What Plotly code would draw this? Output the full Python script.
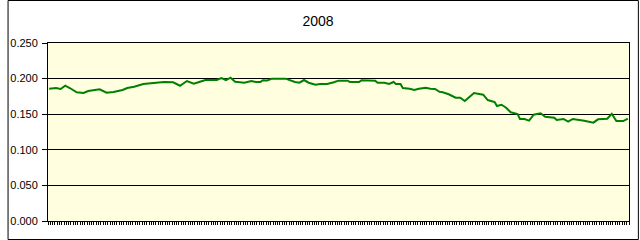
import plotly.graph_objects as go

title_text = "2008"
days = [0, 3, 5, 7, 9, 12, 15, 17, 22, 25, 28, 32, 34, 37, 41, 46, 50, 54, 57, 60,
        63, 65, 68, 73, 75, 77, 79, 81, 85, 88, 90, 92, 93, 95, 97, 103, 105, 107, 109, 111,
        113, 116, 118, 121, 124, 126, 130, 131, 135, 136, 142, 143, 146, 148, 150, 151, 153, 154, 157, 159,
        161, 164, 166, 168, 170, 171, 174, 177, 179, 181, 185, 189, 191, 194, 195, 197, 199, 201, 204, 205,
        207, 209, 211, 214, 216, 220, 221, 224, 226, 228, 233, 237, 239, 243, 245, 247, 250, 252]
values = [0.1858, 0.1868, 0.1854, 0.1900, 0.1868, 0.1808, 0.1798, 0.1826, 0.1850, 0.1802,
          0.1812, 0.1840, 0.1868, 0.1886, 0.1924, 0.1938, 0.1952, 0.1948, 0.1900, 0.1966,
          0.1928, 0.1948, 0.1980, 0.1980, 0.2008, 0.1980, 0.2013, 0.1956, 0.1942, 0.1966,
          0.1952, 0.1952, 0.1976, 0.1973, 0.1999, 0.1999, 0.1976, 0.1952, 0.1942, 0.1980,
          0.1942, 0.1914, 0.1924, 0.1924, 0.1948, 0.1971, 0.1971, 0.1952, 0.1952, 0.1976,
          0.1971, 0.1942, 0.1942, 0.1924, 0.1952, 0.1924, 0.1924, 0.1868, 0.1858, 0.1840,
          0.1858, 0.1872, 0.1858, 0.1854, 0.1815, 0.1812, 0.1780, 0.1732, 0.1732, 0.1685,
          0.1798, 0.1774, 0.1699, 0.1671, 0.1615, 0.1633, 0.1591, 0.1527, 0.1503, 0.1433,
          0.1433, 0.1409, 0.1493, 0.1513, 0.1465, 0.1451, 0.1419, 0.1433, 0.1395, 0.1433,
          0.1409, 0.1381, 0.1428, 0.1437, 0.1506, 0.1404, 0.1404, 0.1437]
y_ticks = [0.0, 0.05, 0.10, 0.15, 0.20, 0.25]
n_days = 253

L, R, T, B = 41, 10, 43, 19
W, H = 640, 240
pw, ph = W - L - R, H - T - B

fig = go.Figure()
fig.add_trace(go.Scatter(x=days, y=values, mode="lines",
                         line=dict(color="#008000", width=2), hoverinfo="skip"))

fig.update_layout(
    width=W, height=H,
    margin=dict(l=L, r=R, t=T, b=B, pad=0),
    paper_bgcolor="white",
    plot_bgcolor="#FFFFE0",
    showlegend=False,
    font=dict(family="Liberation Sans, Arial, sans-serif", color="black", size=11),
    title=dict(text=title_text, x=(318) / W, xanchor="center", xref="container",
               y=1 - 21 / H, yanchor="middle", yref="container",
               font=dict(size=14, family="Liberation Sans, Arial, sans-serif", color="black")),
    xaxis=dict(range=[-0.5, n_days - 0.5], tickmode="linear", tick0=-0.5, dtick=1,
               ticks="outside", ticklen=3, tickwidth=1, tickcolor="black",
               showticklabels=False, showgrid=False, zeroline=False,
               showline=True, linecolor="black", linewidth=1, mirror=True, fixedrange=True),
    yaxis=dict(range=[0, 0.25], tickmode="array", tickvals=y_ticks,
               ticktext=[f"{v:.3f}" for v in y_ticks],
               ticks="outside", ticklen=5, tickwidth=1, tickcolor="black",
               ticklabelstandoff=2,
               showgrid=True, gridcolor="black", gridwidth=1, zeroline=False,
               showline=True, linecolor="black", linewidth=1, mirror=True,
               tickfont=dict(size=11), fixedrange=True),
    shapes=[dict(type="rect", xref="paper", yref="paper",
                 x0=(0.5 - L) / pw, x1=(639.5 - L) / pw,
                 y0=(H - B - 239.5) / ph, y1=(H - B - 0.5) / ph,
                 line=dict(color="black", width=1), fillcolor="rgba(0,0,0,0)", layer="above")],
)

fig.write_html("out.html", config={"displayModeBar": False})
